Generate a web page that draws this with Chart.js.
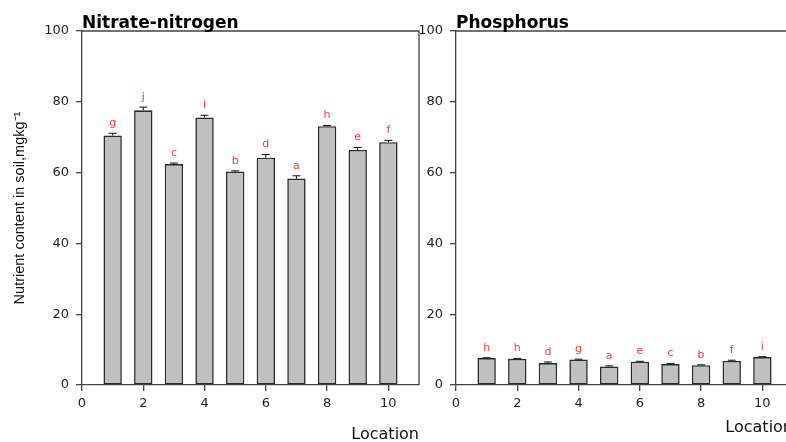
<!DOCTYPE html>
<html>
<head>
<meta charset="utf-8">
<script src="https://cdn.jsdelivr.net/npm/chart.js@4/dist/chart.umd.min.js"></script>
<style>
html, body { margin: 0; padding: 0; background: #fff; overflow: hidden; width: 786px; height: 442px; }
#wrapL { position: absolute; left: 0; top: 0; width: 420px; height: 442px; }
#wrapR { position: absolute; left: 420px; top: 0; width: 380px; height: 442px; }
</style>
</head>
<body>
<div id="wrapL"><canvas id="chartL"></canvas></div>
<div id="wrapR"><canvas id="chartR"></canvas></div>
<script>
// data
const locations = [1, 2, 3, 4, 5, 6, 7, 8, 9, 10];
const nitrateMean = [70.5, 77.6, 62.4, 75.6, 60.3, 64.2, 58.3, 73.1, 66.4, 68.6];
const nitrateErr = [0.6, 0.9, 0.3, 0.6, 0.2, 0.9, 0.8, 0.2, 0.7, 0.5];
const nitrateLetters = ['g', 'j', 'c', 'i', 'b', 'd', 'a', 'h', 'e', 'f'];
const phosMean = [7.6, 7.4, 6.2, 7.2, 5.2, 6.6, 5.9, 5.6, 6.8, 7.9];
const phosErr = [0.1, 0.1, 0.3, 0.1, 0.2, 0.1, 0.2, 0.1, 0.2, 0.1];
const phosLetters = ['h', 'h', 'd', 'g', 'a', 'e', 'c', 'b', 'f', 'i'];
const xTicks = [0, 2, 4, 6, 8, 10];
const yTicks = [0, 20, 40, 60, 80, 100];

const FONT = '"DejaVu Sans", Verdana, sans-serif';
const NARROW = '"Liberation Sans", Arial, sans-serif';
const AXIS = '#444';

// box, error bars, letters and panel title
const panelPlugin = {
  id: 'panel',
  afterDatasetsDraw(chart, args, opts) {
    const ctx = chart.ctx;
    const a = chart.chartArea;
    const ys = chart.scales.y;
    const meta = chart.getDatasetMeta(0);
    ctx.save();
    // top and right frame
    ctx.strokeStyle = AXIS;
    ctx.lineWidth = 1.3;
    ctx.beginPath();
    ctx.moveTo(a.left, a.top);
    ctx.lineTo(a.right, a.top);
    ctx.lineTo(a.right, a.bottom);
    ctx.stroke();
    // error bars
    ctx.strokeStyle = '#111';
    ctx.lineWidth = 1;
    meta.data.forEach(function (bar, i) {
      const yTop = ys.getPixelForValue(opts.means[i]);
      const yErr = ys.getPixelForValue(opts.means[i] + opts.errs[i]);
      ctx.beginPath();
      ctx.moveTo(bar.x, yTop);
      ctx.lineTo(bar.x, yErr);
      ctx.moveTo(bar.x - 4, yErr);
      ctx.lineTo(bar.x + 4, yErr);
      ctx.stroke();
      // letters
      ctx.fillStyle = '#ff3a3a';
      ctx.font = '11px ' + FONT;
      ctx.textAlign = 'center';
      ctx.textBaseline = 'middle';
      ctx.fillText(opts.letters[i], bar.x, yErr - 10);
    });
    // title
    ctx.fillStyle = '#000';
    ctx.font = 'bold 17px ' + FONT;
    ctx.textAlign = 'left';
    ctx.textBaseline = 'alphabetic';
    ctx.fillText(opts.title, a.left, a.top - 3);
    ctx.restore();
  }
};

function makeChart(id, means, errs, letters, title, cfg) {
  return new Chart(document.getElementById(id), {
    type: 'bar',
    data: {
      datasets: [{
        data: locations.map(function (x, i) { return { x: x, y: means[i] }; }),
        backgroundColor: '#c0c0c0',
        borderColor: '#2a2a2a',
        borderWidth: 1.6,
        borderSkipped: false,
        barPercentage: 0.6,
        categoryPercentage: 1
      }]
    },
    options: {
      responsive: true,
      maintainAspectRatio: false,
      animation: false,
      layout: { padding: { top: 31, left: 0, right: cfg.padRight, bottom: 0 } },
      plugins: {
        legend: { display: false },
        tooltip: { enabled: false },
        panel: { means: means, errs: errs, letters: letters, title: title }
      },
      scales: {
        x: {
          type: 'linear',
          min: 0,
          max: 11,
          offset: false,
          afterBuildTicks: function (s) { s.ticks = xTicks.map(function (v) { return { value: v }; }); },
          afterFit: function (s) { s.height = 57; },
          grid: { offset: false, drawOnChartArea: false, drawTicks: true, tickLength: 6, color: AXIS, lineWidth: 1.3 },
          border: { display: true, color: AXIS, width: 1.3 },
          ticks: { color: '#222', font: { family: FONT, size: 13 }, padding: 5, maxRotation: 0 },
          title: {
            display: true, text: 'Location', align: 'end', color: '#111',
            font: { family: FONT, size: 16 }, padding: { top: 0, bottom: cfg.locPad }
          }
        },
        y: {
          min: 0,
          max: 100,
          afterBuildTicks: function (s) { s.ticks = yTicks.map(function (v) { return { value: v }; }); },
          afterFit: function (s) { s.width = cfg.yWidth; },
          grid: { drawOnChartArea: false, drawTicks: true, tickLength: 6, color: AXIS, lineWidth: 1.3 },
          border: { display: true, color: AXIS, width: 1.3 },
          ticks: { color: '#222', font: { family: FONT, size: 13 }, padding: 7 },
          title: {
            display: cfg.yTitle, text: 'Nutrient content in soil,mgkg\u207B\u00B9', color: '#111',
            font: { family: NARROW, size: 14.5 }, padding: { top: 11, bottom: 0 }
          }
        }
      }
    },
    plugins: [panelPlugin]
  });
}

makeChart('chartL', nitrateMean, nitrateErr, nitrateLetters, 'Nitrate-nitrogen',
  { padRight: 1, yWidth: 82, yTitle: true, locPad: -2 });
makeChart('chartR', phosMean, phosErr, phosLetters, 'Phosphorus',
  { padRight: 7, yWidth: 36, yTitle: false, locPad: 5 });
</script>
</body>
</html>
